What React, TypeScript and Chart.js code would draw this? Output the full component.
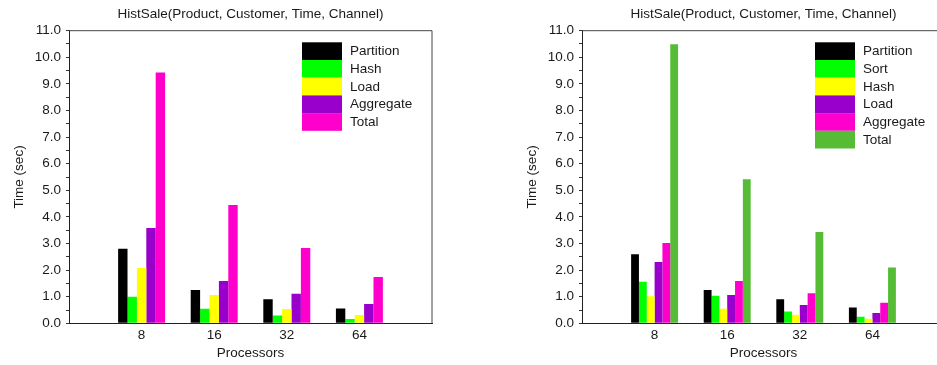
import React, { useEffect, useRef } from 'react';
import { Chart, registerables } from 'chart.js';
Chart.register(...registerables);

// ---------- data ----------
const categories = ['8', '16', '32', '64'];
const chartTitle = 'HistSale(Product, Customer, Time, Channel)';
const xTitle = 'Processors';
const yTitle = 'Time (sec)';
const yMax = 11;
const yStep = 0.5;

// left chart
const leftLabels = ['Partition', 'Hash', 'Load', 'Aggregate', 'Total'];
const leftPartition = [2.8, 1.25, 0.9, 0.56];
const leftHash = [1.0, 0.55, 0.29, 0.16];
const leftLoad = [2.08, 1.06, 0.54, 0.31];
const leftAggregate = [3.58, 1.59, 1.11, 0.73];
const leftTotal = [9.43, 4.45, 2.83, 1.74];

// right chart
const rightLabels = ['Partition', 'Sort', 'Hash', 'Load', 'Aggregate', 'Total'];
const rightPartition = [2.6, 1.25, 0.9, 0.59];
const rightSort = [1.56, 1.04, 0.44, 0.25];
const rightHash = [1.02, 0.55, 0.32, 0.17];
const rightLoad = [2.3, 1.06, 0.69, 0.39];
const rightAggregate = [3.02, 1.59, 1.13, 0.77];
const rightTotal = [10.49, 5.42, 3.43, 2.1];

// ---------- styles ----------
const leftColors = ['#000000', '#00ff00', '#ffff00', '#9900cc', '#ff00cc'];
const rightColors = ['#000000', '#00ff00', '#ffff00', '#9900cc', '#ff00cc', '#56bc35'];
const FONT = '"Liberation Sans", Arial, Helvetica, sans-serif';
const FS = 13.5;
const TEXT = '#1a1a1a';

const CW = 470;
const CH = 365;

const framePlugin = {
  id: 'frame',
  afterDraw(chart: any) {
    const { ctx, chartArea } = chart;
    ctx.save();
    ctx.strokeStyle = '#444';
    ctx.lineWidth = 1;
    ctx.beginPath();
    ctx.moveTo(chartArea.left, chartArea.top);
    ctx.lineTo(chartArea.right, chartArea.top);
    ctx.lineTo(chartArea.right, chartArea.bottom);
    ctx.stroke();
    ctx.restore();
  },
};

const legendPlugin = {
  id: 'boxLegend',
  afterDraw(chart: any) {
    const { ctx } = chart;
    const x = 302;
    const top = 42.3;
    const bw = 40;
    const bh = 17.7;
    ctx.save();
    ctx.font = `${FS}px ${FONT}`;
    ctx.textBaseline = 'middle';
    ctx.textAlign = 'left';
    chart.data.datasets.forEach((ds: any, i: number) => {
      const y = top + i * bh;
      ctx.fillStyle = ds.backgroundColor;
      ctx.fillRect(x, y, bw, bh);
      ctx.fillStyle = TEXT;
      ctx.fillText(ds.label, x + 48, y + bh / 2 + 0.5);
    });
    ctx.restore();
  },
};

function Panel({ labels, series, colors, left }: { labels: string[]; series: number[][]; colors: string[]; left: number }) {
  const ref = useRef<HTMLCanvasElement | null>(null);
  useEffect(() => {
    if (!ref.current) return;
    const xLabels = ['', ...categories, ''];
    const chart = new Chart(ref.current, {
      type: 'bar',
      data: {
        labels: xLabels,
        datasets: series.map((vals, i) => ({
          label: labels[i],
          data: [null, ...vals, null],
          backgroundColor: colors[i],
          borderWidth: 0,
          categoryPercentage: 0.647,
          barPercentage: 1,
        })),
      },
      options: {
        responsive: false,
        animation: false,
        devicePixelRatio: 1,
        layout: { padding: { left: 0, right: CW - 432, top: 0, bottom: 0 } },
        plugins: {
          legend: { display: false },
          tooltip: { enabled: false },
          title: {
            display: true,
            fullSize: false,
            align: 'center',
            text: chartTitle,
            color: TEXT,
            font: { family: FONT, size: FS, weight: 'normal', lineHeight: 1.2 },
            padding: { top: 6, bottom: 8.5 },
          },
        },
        scales: {
          x: {
            type: 'category',
            offset: false,
            grid: { display: false, drawTicks: false, offset: false },
            border: { display: true, color: '#222', width: 1 },
            ticks: {
              color: TEXT,
              font: { family: FONT, size: FS },
              padding: 4,
              autoSkip: false,
              maxRotation: 0,
            },
            title: {
              display: true,
              text: xTitle,
              color: TEXT,
              font: { family: FONT, size: FS, lineHeight: 1.2 },
              padding: { top: 0, bottom: 3.2 },
            },
            afterFit(scale: any) {
              scale.height = 41.7;
            },
          },
          y: {
            min: 0,
            max: yMax,
            grid: { display: true, drawOnChartArea: false, drawTicks: true, tickLength: 3, color: '#333' },
            border: { display: true, color: '#222', width: 1 },
            ticks: {
              stepSize: yStep,
              autoSkip: false,
              color: TEXT,
              padding: 5,
              font: { family: FONT, size: FS },
              callback: (v: any) => (Math.abs(v - Math.round(v)) < 1e-6 ? Number(v).toFixed(1) : ''),
            },
            title: {
              display: true,
              text: yTitle,
              color: TEXT,
              font: { family: FONT, size: FS, lineHeight: 1.2 },
              padding: { top: 11.5, bottom: 0 },
            },
            afterFit(scale: any) {
              scale.width = 69;
            },
          },
        },
      },
      plugins: [framePlugin, legendPlugin],
    } as any);
    return () => chart.destroy();
  }, []);
  return (
    <canvas
      ref={ref}
      width={CW}
      height={CH}
      style={{ position: 'absolute', left, top: 0, width: CW, height: CH, display: 'block' }}
    />
  );
}

export default function App() {
  return (
    <div style={{ position: 'fixed', left: 0, top: 0, width: 937, height: 365, overflow: 'hidden', background: '#fff' }}>
      <Panel
        labels={leftLabels}
        series={[leftPartition, leftHash, leftLoad, leftAggregate, leftTotal]}
        colors={leftColors}
        left={0}
      />
      <Panel
        labels={rightLabels}
        series={[rightPartition, rightSort, rightHash, rightLoad, rightAggregate, rightTotal]}
        colors={rightColors}
        left={513}
      />
    </div>
  );
}
